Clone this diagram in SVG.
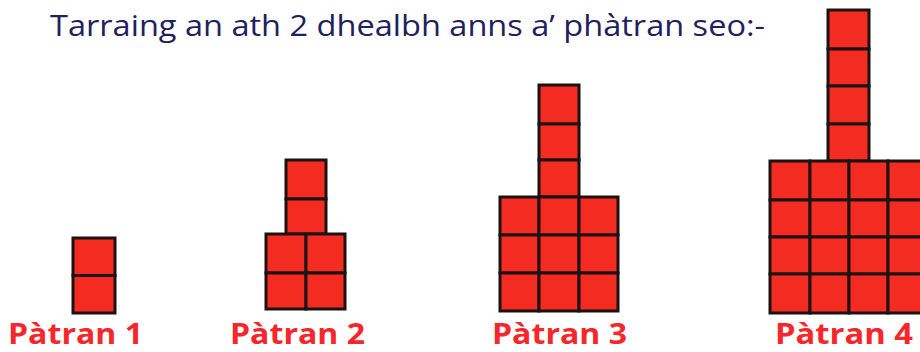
<svg xmlns="http://www.w3.org/2000/svg" width="920" height="352" viewBox="0 0 920 352">
<style>
.c{fill:#f42b20;stroke:#1c1212;stroke-width:3}
.t{font-family:"Open Sans","DejaVu Sans",sans-serif;fill:#1f215e;font-size:30px}
.l{font-family:"Open Sans","DejaVu Sans",sans-serif;fill:#f7262a;font-size:29px;font-weight:bold}
</style>
<rect width="920" height="352" fill="#ffffff"/>
<text class="t" x="50" y="36" textLength="715" lengthAdjust="spacingAndGlyphs">Tarraing an ath 2 dhealbh anns a’ phàtran seo:-</text>
<g id="patran1">
<rect class="c" x="73" y="238" width="42" height="37.5"/>
<rect class="c" x="73" y="275.5" width="42" height="37.5"/>
<text class="l" x="8" y="344" textLength="135" lengthAdjust="spacingAndGlyphs">Pàtran 1</text>
</g>
<g id="patran2">
<rect class="c" x="286" y="160" width="40" height="39"/>
<rect class="c" x="286" y="199" width="40" height="35"/>
<rect class="c" x="266" y="234" width="40" height="39"/>
<rect class="c" x="306" y="234" width="39" height="39"/>
<rect class="c" x="266" y="273" width="40" height="36"/>
<rect class="c" x="306" y="273" width="39" height="36"/>
<text class="l" x="230" y="344" textLength="135" lengthAdjust="spacingAndGlyphs">Pàtran 2</text>
</g>
<g id="patran3">
<rect class="c" x="539" y="85" width="40" height="39"/>
<rect class="c" x="539" y="124" width="40" height="36"/>
<rect class="c" x="539" y="160" width="40" height="37"/>
<rect class="c" x="500" y="197" width="39" height="38"/>
<rect class="c" x="539" y="197" width="40" height="38"/>
<rect class="c" x="579" y="197" width="39" height="38"/>
<rect class="c" x="500" y="235" width="39" height="38"/>
<rect class="c" x="539" y="235" width="40" height="38"/>
<rect class="c" x="579" y="235" width="39" height="38"/>
<rect class="c" x="500" y="273" width="39" height="38"/>
<rect class="c" x="539" y="273" width="40" height="38"/>
<rect class="c" x="579" y="273" width="39" height="38"/>
<text class="l" x="492" y="344" textLength="135" lengthAdjust="spacingAndGlyphs">Pàtran 3</text>
</g>
<g id="patran4">
<rect class="c" x="828" y="10" width="41" height="39"/>
<rect class="c" x="828" y="49" width="41" height="37"/>
<rect class="c" x="828" y="86" width="41" height="38"/>
<rect class="c" x="828" y="124" width="41" height="37"/>
<rect class="c" x="770" y="161" width="40" height="39"/>
<rect class="c" x="810" y="161" width="39" height="39"/>
<rect class="c" x="849" y="161" width="39" height="39"/>
<rect class="c" x="888" y="161" width="39" height="39"/>
<rect class="c" x="770" y="200" width="40" height="37"/>
<rect class="c" x="810" y="200" width="39" height="37"/>
<rect class="c" x="849" y="200" width="39" height="37"/>
<rect class="c" x="888" y="200" width="39" height="37"/>
<rect class="c" x="770" y="237" width="40" height="37"/>
<rect class="c" x="810" y="237" width="39" height="37"/>
<rect class="c" x="849" y="237" width="39" height="37"/>
<rect class="c" x="888" y="237" width="39" height="37"/>
<rect class="c" x="770" y="274" width="40" height="39"/>
<rect class="c" x="810" y="274" width="39" height="39"/>
<rect class="c" x="849" y="274" width="39" height="39"/>
<rect class="c" x="888" y="274" width="39" height="39"/>
<text class="l" x="775" y="344" textLength="138" lengthAdjust="spacingAndGlyphs">Pàtran 4</text>
</g>
</svg>
